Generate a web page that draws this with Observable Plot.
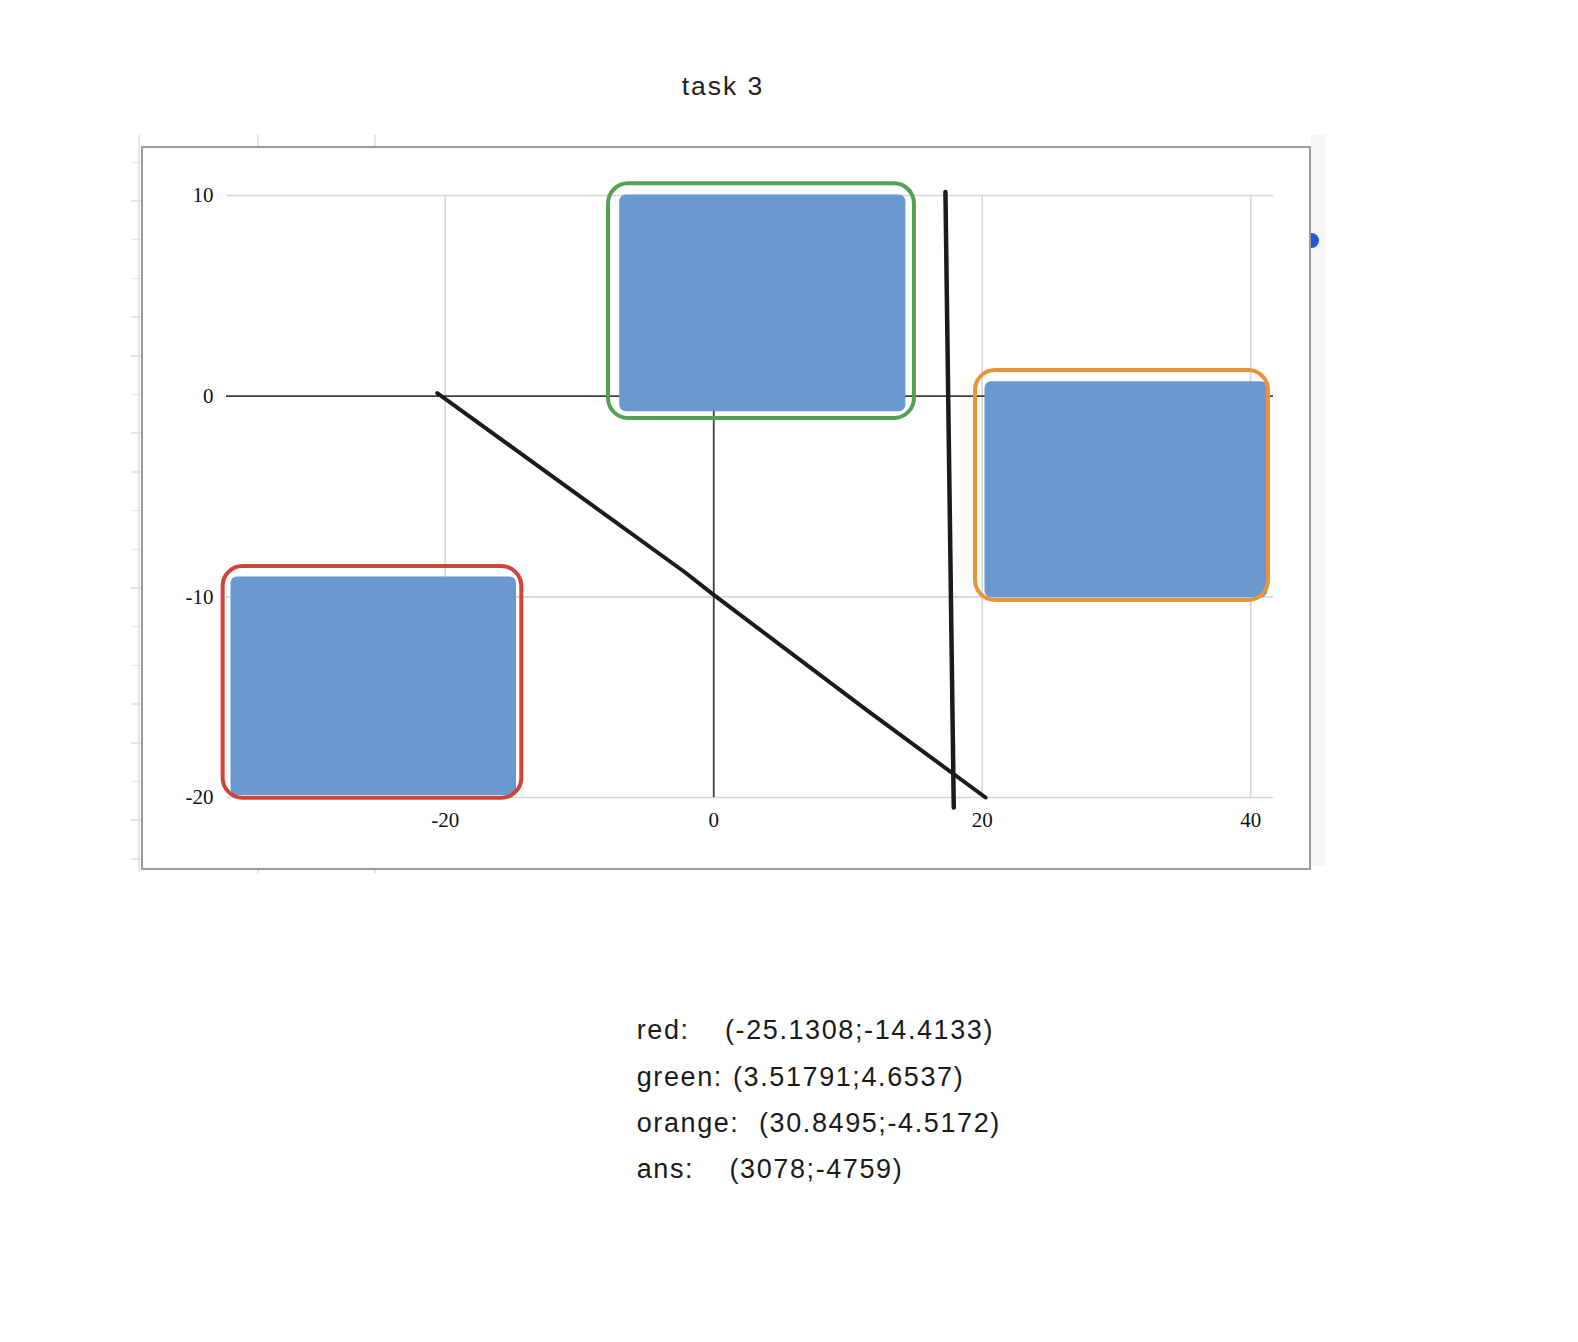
<!DOCTYPE html>
<html>
<head>
<meta charset="utf-8">
<script src="https://cdn.jsdelivr.net/npm/d3@7"></script>
<script src="https://cdn.jsdelivr.net/npm/@observablehq/plot@0.6"></script>
<style>
  html, body { margin: 0; padding: 0; background: #fff; }
  body { position: relative; width: 1578px; height: 1342px; overflow: hidden; }
  .abs { position: absolute; }
  #title { left: 723px; top: 73px; transform: translateX(-50%); font-family: "Liberation Sans", Arial, sans-serif; font-size: 26.5px; letter-spacing: 2px; color: #222; line-height: 1; white-space: nowrap; }
  #frame { left: 141px; top: 146px; width: 1170px; height: 724px; box-sizing: border-box; border: 2px solid #9c9c9c; }
  #strip { left: 1311px; top: 135px; width: 15px; height: 731px; background: #f5f6f5; }
  #dot { left: 1311px; top: 233px; width: 8px; height: 15px; border-radius: 0 8px 8px 0; background: #2257d4; }
  .faint { background: #e4e4e4; }
  #chart { left: 0; top: 130px; }
  .line { left: 636.7px; font-family: "Liberation Sans", Arial, sans-serif; font-size: 27px; letter-spacing: 1.6px; line-height: 1; color: #1a1a1a; white-space: nowrap; }
  .val { position: absolute; top: 0; }
</style>
</head>
<body>
<div id="strip" class="abs"></div>
<div id="dot" class="abs"></div>
<div class="abs faint" style="left:138px;top:135px;width:2px;height:737px"></div>
<div id="ticksL"></div>
<div class="abs faint" style="left:256.6px;top:135px;width:2px;height:12px"></div>
<div class="abs faint" style="left:374.4px;top:135px;width:2px;height:12px"></div>
<div class="abs faint" style="left:256.6px;top:869px;width:2px;height:4px"></div>
<div class="abs faint" style="left:374.4px;top:869px;width:2px;height:4px"></div>
<div id="frame" class="abs"></div>
<div id="title" class="abs">task 3</div>
<div id="chart" class="abs"></div>
<div id="notes"></div>
<script>
// ---- data ----
const xTicks = [-20, 0, 20, 40];
const yTicks = [-20, -10, 0, 10];

// blue point clouds (extent of point centres)
const clusterNames = ["red", "green", "orange"];
const clusterX1 = [-35.48, -6.52, 20.69];
const clusterX2 = [-15.18, 13.83, 40.80];
const clusterY1 = [-19.58, -0.45, -9.72];
const clusterY2 = [-9.33, 9.70, 0.40];

// hand-drawn rounded boxes
const boxX1 = [-36.55, -7.84, 19.50];
const boxX2 = [-14.30, 14.95, 41.33];
const boxY1 = [-20.04, -1.11, -10.18];
const boxY2 = [-8.49, 10.58, 1.28];
const boxColors = ["#d0433a", "#55a153", "#e8953a"];

// hand-drawn black lines
const diagX = [-20.6, -2.2, 0, 11.5, 20.25];
const diagY = [0.15, -8.75, -9.9, -15.7, -20.0];
const vertX = [17.26, 17.88];
const vertY = [10.17, -20.5];

// notes under the chart
const noteLabels = ["red:", "green:", "orange:", "ans:"];
const noteValues = ["(-25.1308;-14.4133)", "(3.51791;4.6537)", "(30.8495;-4.5172)", "(3078;-4759)"];

// ---- tables ----
const clusters = clusterNames.map((n, i) => ({name: n, x1: clusterX1[i], x2: clusterX2[i], y1: clusterY1[i], y2: clusterY2[i]}));
const boxes = clusterNames.map((n, i) => ({name: n, x1: boxX1[i], x2: boxX2[i], y1: boxY1[i], y2: boxY2[i], color: boxColors[i]}));
const diag = diagX.map((x, i) => ({x, y: diagY[i]}));
const vert = vertX.map((x, i) => ({x, y: vertY[i]}));

const blue = "#6a99cf";
const chart = Plot.plot({
  width: 1578,
  height: 760,
  marginLeft: 226,
  marginRight: 305,
  marginTop: 65,
  marginBottom: 93,
  x: {domain: [-36.3, 41.7]},
  y: {domain: [-20, 10]},
  color: {type: "identity"},
  style: {fontFamily: "'Liberation Serif', 'Times New Roman', serif", fontSize: "21px", color: "#111", background: "transparent", overflow: "visible"},
  marks: [
    Plot.ruleX(xTicks.filter(d => d !== 0), {stroke: "#d6d6d6", strokeWidth: 1.6}),
    Plot.ruleY(yTicks.filter(d => d !== 0), {stroke: "#d6d6d6", strokeWidth: 1.6}),
    Plot.ruleX([0], {stroke: "#3c3c3c", strokeWidth: 1.8}),
    Plot.ruleY([0], {stroke: "#3c3c3c", strokeWidth: 1.8}),
    Plot.rect(clusters, {x1: "x1", x2: "x2", y1: "y1", y2: "y2", fill: blue, stroke: blue, strokeWidth: 13, strokeLinejoin: "round"}),
    Plot.rect(boxes, {x1: "x1", x2: "x2", y1: "y1", y2: "y2", fill: "none", stroke: "color", strokeWidth: 4, rx: 20}),
    Plot.line(diag, {x: "x", y: "y", stroke: "#1b1b1b", strokeWidth: 4, strokeLinecap: "round", curve: "linear"}),
    Plot.line(vert, {x: "x", y: "y", stroke: "#1b1b1b", strokeWidth: 4.5, strokeLinecap: "round"}),
    Plot.axisX({ticks: xTicks, tickSize: 0, tickPadding: 15, tickFormat: d => String(d)}),
    Plot.axisY({ticks: yTicks, tickSize: 0, tickPadding: 13, tickFormat: d => String(d)})
  ]
});
document.getElementById("chart").appendChild(chart);

// faint spreadsheet row ticks on the left
const tl = document.getElementById("ticksL");
for (let k = 0; k < 19; k++) {
  const d = document.createElement("div");
  d.className = "abs faint";
  d.style.cssText = `left:131px;top:${161.5 + k * 38.7}px;width:11px;height:1.5px`;
  tl.appendChild(d);
}

// notes
const valueLeft = [725, 733, 759, 729.5];
const baselines = [1040, 1086.5, 1132.5, 1179];
const notes = document.getElementById("notes");
noteLabels.forEach((lab, i) => {
  const div = document.createElement("div");
  div.className = "abs line";
  div.style.top = (baselines[i] - 22.9) + "px";
  const a = document.createElement("span");
  a.textContent = lab;
  const b = document.createElement("span");
  b.className = "val";
  b.style.left = (valueLeft[i] - 636.7) + "px";
  b.textContent = noteValues[i];
  div.appendChild(a);
  div.appendChild(b);
  notes.appendChild(div);
});
</script>
</body>
</html>
